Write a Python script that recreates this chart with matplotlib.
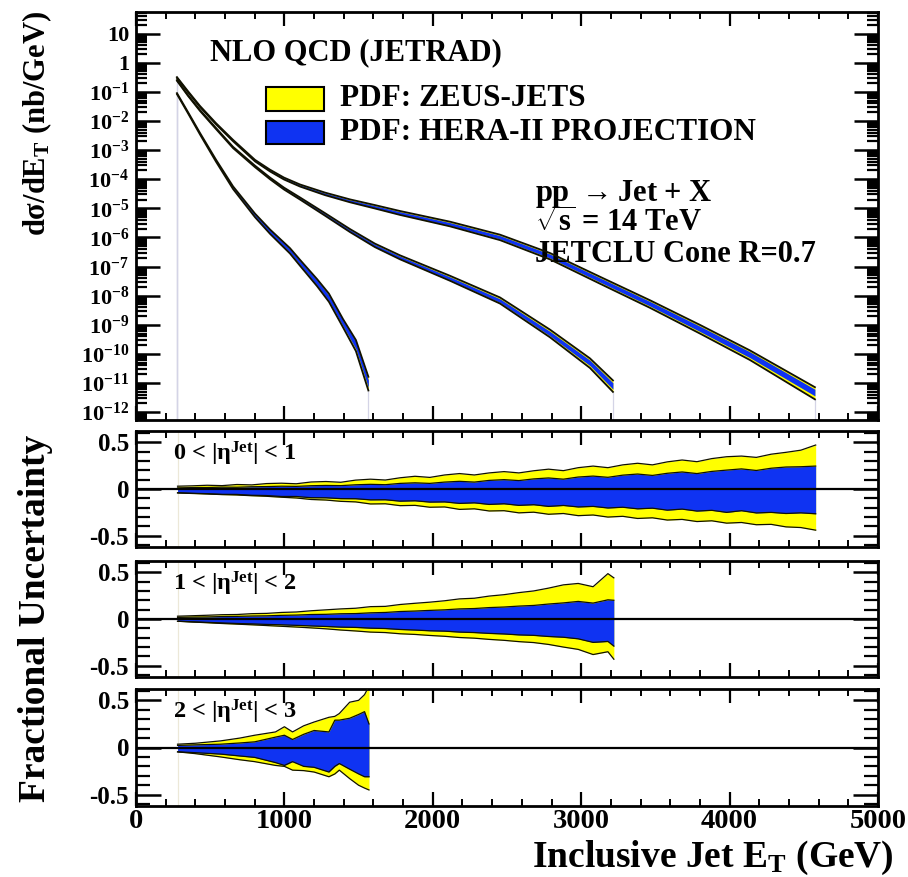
import numpy as np
import matplotlib
matplotlib.use("Agg")
import matplotlib.pyplot as plt
from matplotlib.ticker import FixedLocator, FixedFormatter, MultipleLocator, LogLocator, NullFormatter
from matplotlib.patches import Rectangle

plt.rcParams['font.family'] = ['Liberation Serif', 'DejaVu Serif']
plt.rcParams['font.weight'] = 'bold'
plt.rcParams['mathtext.fontset'] = 'custom'
plt.rcParams['mathtext.rm'] = 'Liberation Serif:bold'
plt.rcParams['mathtext.it'] = 'Liberation Serif:bold'
plt.rcParams['mathtext.bf'] = 'Liberation Serif:bold'
plt.rcParams['mathtext.sf'] = 'Liberation Serif:bold'

# ---------------- cross sections (nb/GeV) vs jet ET (GeV) ----------------
et_eta01 = [276, 350, 431, 539, 654, 802, 903, 997, 1105, 1274, 1442, 1610, 1779, 2116,
            2453, 2790, 3127, 3464, 3801, 4137, 4575]
xs_eta01 = [0.310, 0.102, 0.0316, 8.1e-3, 2.14e-3, 4.4e-4, 2.0e-4, 1.07e-4, 6.2e-5, 3.2e-5,
            1.86e-5, 1.17e-5, 7.2e-6, 3.0e-6, 1.05e-6, 2.4e-7, 3.6e-8, 5.5e-9, 7.6e-10,
            9.8e-11, 4.9e-12]

et_eta12 = [276, 350, 431, 539, 654, 802, 903, 997, 1105, 1274, 1442, 1610, 1779, 2116,
            2453, 2790, 3059, 3214]
xs_eta12 = [0.245, 0.075, 0.0229, 5.5e-3, 1.23e-3, 2.75e-4, 1.07e-4, 4.8e-5, 2.19e-5, 6.2e-6,
            1.74e-6, 5.4e-7, 2.1e-7, 4.0e-8, 6.9e-9, 5.1e-10, 5.2e-11, 8.5e-12]

et_eta23 = [276, 350, 431, 539, 654, 802, 903, 1038, 1105, 1220, 1300, 1395, 1482, 1566]
xs_eta23 = [0.087, 0.0195, 3.7e-3, 4.4e-4, 5.2e-5, 5.8e-6, 1.62e-6, 3.6e-7, 1.41e-7, 2.9e-8,
            8.9e-9, 1.12e-9, 2.0e-10, 1.0e-11]

# ---------------- fractional PDF uncertainties ----------------
# 0 < |eta| < 1
et_u1 = [280, 380, 480, 580, 680, 780, 880, 980, 1080, 1180, 1280, 1380, 1480, 1580, 1680,
         1780, 1880, 1980, 2080, 2180, 2280, 2380, 2480, 2580, 2680, 2780, 2880, 2980, 3080,
         3180, 3280, 3380, 3480, 3580, 3680, 3780, 3880, 3980, 4080, 4180, 4280, 4380, 4480, 4580]
zeus_up1 = [0.030, 0.034, 0.040, 0.036, 0.048, 0.044, 0.058, 0.062, 0.056, 0.075, 0.080, 0.072,
            0.095, 0.105, 0.096, 0.120, 0.136, 0.124, 0.150, 0.165, 0.150, 0.172, 0.186, 0.172,
            0.195, 0.212, 0.196, 0.228, 0.245, 0.228, 0.258, 0.275, 0.258, 0.290, 0.310, 0.292,
            0.325, 0.345, 0.352, 0.338, 0.372, 0.392, 0.415, 0.470]
zeus_dn1 = [-0.042, -0.048, -0.053, -0.060, -0.064, -0.072, -0.078, -0.088, -0.096, -0.112,
            -0.118, -0.132, -0.138, -0.160, -0.158, -0.178, -0.175, -0.195, -0.192, -0.218,
            -0.212, -0.235, -0.232, -0.255, -0.248, -0.270, -0.262, -0.285, -0.278, -0.300,
            -0.292, -0.315, -0.308, -0.332, -0.325, -0.348, -0.340, -0.365, -0.358, -0.382,
            -0.378, -0.405, -0.412, -0.440]
hera_up1 = [0.012, 0.015, 0.016, 0.020, 0.019, 0.024, 0.026, 0.030, 0.028, 0.035, 0.038, 0.036,
            0.045, 0.050, 0.046, 0.060, 0.066, 0.060, 0.074, 0.082, 0.074, 0.092, 0.100, 0.090,
            0.108, 0.118, 0.105, 0.128, 0.138, 0.125, 0.148, 0.160, 0.145, 0.168, 0.182, 0.165,
            0.188, 0.202, 0.215, 0.198, 0.222, 0.235, 0.238, 0.245]
hera_dn1 = [-0.040, -0.046, -0.050, -0.057, -0.058, -0.067, -0.070, -0.080, -0.080, -0.093,
            -0.094, -0.103, -0.104, -0.116, -0.115, -0.130, -0.126, -0.140, -0.138, -0.154,
            -0.148, -0.165, -0.158, -0.175, -0.168, -0.186, -0.176, -0.192, -0.186, -0.203,
            -0.195, -0.212, -0.205, -0.226, -0.215, -0.236, -0.228, -0.250, -0.232, -0.256,
            -0.250, -0.262, -0.255, -0.265]

# 1 < |eta| < 2
et_u2 = [280, 380, 480, 580, 680, 780, 880, 980, 1080, 1180, 1280, 1380, 1480, 1580, 1680,
         1780, 1880, 1980, 2080, 2180, 2280, 2380, 2480, 2580, 2680, 2780, 2880, 2980, 3080,
         3180, 3220]
zeus_up2 = [0.030, 0.035, 0.040, 0.046, 0.048, 0.057, 0.060, 0.070, 0.075, 0.088, 0.098, 0.108,
            0.115, 0.132, 0.135, 0.155, 0.168, 0.180, 0.195, 0.215, 0.222, 0.245, 0.260, 0.282,
            0.300, 0.330, 0.365, 0.380, 0.345, 0.485, 0.440]
zeus_dn2 = [-0.024, -0.032, -0.040, -0.048, -0.055, -0.062, -0.070, -0.078, -0.086, -0.095,
            -0.105, -0.118, -0.128, -0.140, -0.145, -0.158, -0.165, -0.176, -0.185, -0.198,
            -0.205, -0.218, -0.228, -0.242, -0.252, -0.272, -0.300, -0.325, -0.380, -0.350,
            -0.430]
hera_up2 = [0.017, 0.020, 0.022, 0.026, 0.028, 0.032, 0.034, 0.039, 0.042, 0.048, 0.050, 0.056,
            0.058, 0.066, 0.070, 0.080, 0.085, 0.092, 0.098, 0.108, 0.112, 0.122, 0.128, 0.138,
            0.145, 0.160, 0.172, 0.188, 0.170, 0.205, 0.200]
hera_dn2 = [-0.024, -0.030, -0.036, -0.042, -0.048, -0.052, -0.058, -0.062, -0.068, -0.074,
            -0.080, -0.087, -0.090, -0.098, -0.102, -0.112, -0.118, -0.126, -0.130, -0.140,
            -0.145, -0.154, -0.160, -0.170, -0.175, -0.187, -0.195, -0.212, -0.250, -0.240,
            -0.290]

# 2 < |eta| < 3
et_u3 = [280, 400, 570, 700, 800, 940, 1000, 1055, 1130, 1200, 1300, 1340, 1370, 1440, 1500, 1540, 1570]
zeus_up3 = [0.035, 0.045, 0.070, 0.100, 0.130, 0.165, 0.220, 0.165, 0.230, 0.270, 0.320, 0.330,
            0.360, 0.480, 0.500, 0.560, 0.650]
zeus_dn3 = [-0.046, -0.065, -0.100, -0.130, -0.150, -0.190, -0.200, -0.240, -0.245, -0.260,
            -0.310, -0.280, -0.240, -0.330, -0.400, -0.430, -0.450]
hera_up3 = [0.022, 0.028, 0.035, 0.048, 0.060, 0.110, 0.130, 0.085, 0.140, 0.180, 0.165, 0.290,
            0.290, 0.310, 0.350, 0.380, 0.250]
hera_dn3 = [-0.046, -0.055, -0.070, -0.090, -0.105, -0.160, -0.190, -0.150, -0.200, -0.210,
            -0.260, -0.200, -0.170, -0.230, -0.280, -0.310, -0.310]

region_labels = ["0 < |η$^{\\rm Jet}$| < 1", "1 < |η$^{\\rm Jet}$| < 2", "2 < |η$^{\\rm Jet}$| < 3"]
legend_labels = ["PDF: ZEUS-JETS", "PDF: HERA-II PROJECTION"]
log_tick_values = [10.0 ** k for k in range(1, -13, -1)]
log_tick_labels = ["10", "1"] + ["10$^{%d}$" % k for k in range(-1, -13, -1)]
frac_tick_values = [-0.5, 0.0, 0.5]
frac_tick_labels = ["-0.5", "0", "0.5"]
et_tick_values = [0, 1000, 2000, 3000, 4000, 5000]
et_tick_labels = ["0", "1000", "2000", "3000", "4000", "5000"]

YELLOW = "#ffff00"
BLUE = "#0f33f2"
EDGE = "#111100"
FAINT = "#d4d4e6"

W, H = 908, 877
fig = plt.figure(figsize=(W / 100, H / 100), dpi=100)


def px_axes(left, top, right, bottom):
    return fig.add_axes([left / W, 1 - bottom / H, (right - left) / W, (bottom - top) / H])


def frame(ax):
    for s in ax.spines.values():
        s.set_linewidth(2.0)
    ax.xaxis.set_major_locator(MultipleLocator(1000))
    ax.xaxis.set_minor_locator(MultipleLocator(200))
    ax.set_xlim(0, 5000)
    ax.tick_params(axis='x', which='major', direction='in', top=True, bottom=True,
                   length=10, width=1.6)
    ax.tick_params(axis='x', which='minor', direction='in', top=True, bottom=True,
                   length=5, width=1.4)


ax0 = px_axes(136, 12, 878, 420)
axes = [px_axes(136, 431, 878, 547), px_axes(136, 561, 878, 677), px_axes(136, 689, 878, 806)]

# ---------------- top panel ----------------
frame(ax0)
ax0.set_yscale('log')
ymin, ymax = 10 ** -12.27, 10 ** 1.74
ax0.set_ylim(ymin, ymax)
ax0.yaxis.set_major_locator(FixedLocator(log_tick_values))
ax0.yaxis.set_major_formatter(FixedFormatter(log_tick_labels))
ax0.yaxis.set_minor_locator(LogLocator(base=10, subs=np.arange(2, 10), numticks=40))
ax0.yaxis.set_minor_formatter(NullFormatter())
ax0.tick_params(axis='y', which='major', direction='in', left=True, right=True,
                length=17, width=1.8, labelsize=16, pad=5)
ax0.tick_params(axis='y', which='minor', direction='in', left=True, right=True,
                length=8, width=1.6)
ax0.tick_params(axis='x', labelbottom=False)

curves = [
    (et_eta01, xs_eta01, et_u1, zeus_up1, zeus_dn1, hera_up1, hera_dn1),
    (et_eta12, xs_eta12, et_u2, zeus_up2, zeus_dn2, hera_up2, hera_dn2),
    (et_eta23, xs_eta23, et_u3, zeus_up3, zeus_dn3, hera_up3, hera_dn3),
]
for et, xs, etu, zu, zd, hu, hd in curves:
    et = np.asarray(et, float)
    xs = np.asarray(xs, float)
    zu_i = np.interp(et, etu, zu)
    zd_i = np.interp(et, etu, zd)
    hu_i = np.interp(et, etu, hu)
    hd_i = np.interp(et, etu, hd)
    ax0.vlines([et[0], et[-1]], ymin, [xs[0], xs[-1] * (1 + zd_i[-1])], color=FAINT, lw=0.9, zorder=1)
    ax0.fill_between(et, xs * (1 + zd_i), xs * (1 + zu_i), color=YELLOW, lw=0, zorder=2)
    ax0.fill_between(et, xs * (1 + hd_i), xs * (1 + hu_i), color=BLUE, lw=0, zorder=3)
    ax0.plot(et, xs * (1 + zu_i), color=EDGE, lw=1.3, zorder=4)
    ax0.plot(et, xs * (1 + zd_i), color=EDGE, lw=1.3, zorder=4)

ax0.text(0.1, 0.9, "NLO QCD (JETRAD)", transform=ax0.transAxes, fontsize=22,
         fontweight='bold', ha='left', va='center')
for i, (lab, col) in enumerate(zip(legend_labels, [YELLOW, BLUE])):
    yc = [0.787, 0.705][i]
    ax0.add_patch(Rectangle((0.175, yc - 0.029), 0.078, 0.058, transform=ax0.transAxes,
                            facecolor=col, edgecolor='black', lw=1.5, zorder=5))
    ax0.text(0.275, yc, lab, transform=ax0.transAxes, fontsize=22.5, fontweight='bold',
             ha='left', va='center')

ax0.text(0.538, 0.555, "pp $\\rightarrow$Jet + X", transform=ax0.transAxes, fontsize=22,
         fontweight='bold', ha='left', va='center')
ax0.text(0.538, 0.482, "$\\sqrt{\\rm s}$ = 14 TeV", transform=ax0.transAxes, fontsize=22,
         fontweight='bold', ha='left', va='center')
ax0.text(0.538, 0.406, "JETCLU Cone R=0.7", transform=ax0.transAxes, fontsize=22,
         fontweight='bold', ha='left', va='center')

# ---------------- uncertainty panels ----------------
bands = [
    (et_u1, zeus_up1, zeus_dn1, hera_up1, hera_dn1),
    (et_u2, zeus_up2, zeus_dn2, hera_up2, hera_dn2),
    (et_u3, zeus_up3, zeus_dn3, hera_up3, hera_dn3),
]
for k, (ax, (etu, zu, zd, hu, hd)) in enumerate(zip(axes, bands)):
    frame(ax)
    ax.set_ylim(-0.62, 0.62)
    ax.yaxis.set_major_locator(FixedLocator(frac_tick_values))
    ax.yaxis.set_major_formatter(FixedFormatter(frac_tick_labels))
    ax.yaxis.set_minor_locator(MultipleLocator(0.1))
    ax.tick_params(axis='y', which='major', direction='in', left=True, right=True,
                   length=18, width=1.8, labelsize=18, pad=5)
    ax.tick_params(axis='y', which='minor', direction='in', left=True, right=True,
                   length=10, width=1.6)
    ax.axvline(etu[0], color="#ece8d8", lw=0.9, zorder=1)
    ax.fill_between(etu, zd, zu, color=YELLOW, lw=0, zorder=2)
    ax.fill_between(etu, hd, hu, color=BLUE, lw=0, zorder=3)
    for arr in (zu, zd, hu, hd):
        ax.plot(etu, arr, color=EDGE, lw=0.9, zorder=4)
    ax.axhline(0, color='black', lw=1.6, zorder=5)
    ax.text(0.05, 0.8, region_labels[k], transform=ax.transAxes, fontsize=17.5,
            fontweight='bold', ha='left', va='center', zorder=6)
    if k < 2:
        ax.tick_params(axis='x', labelbottom=False)
    else:
        ax.xaxis.set_major_locator(FixedLocator(et_tick_values))
        ax.xaxis.set_major_formatter(FixedFormatter(et_tick_labels))
        ax.tick_params(axis='x', which='major', labelsize=20.5, pad=2)

fig.text(37 / W, 1 - 124 / H, "dσ/dE$_{\\rm T}$ (nb/GeV)", rotation=90, fontsize=22,
         fontweight='bold', ha='center', va='center')
fig.text(36 / W, 1 - 618 / H, "Fractional Uncertainty", rotation=90, fontsize=27,
         fontweight='bold', ha='center', va='center')
fig.text(894 / W, 1 - 867 / H, "Inclusive Jet E$_{\\rm T}$ (GeV)", fontsize=27,
         fontweight='bold', ha='right', va='baseline')

fig.savefig("out.png", dpi=100)
